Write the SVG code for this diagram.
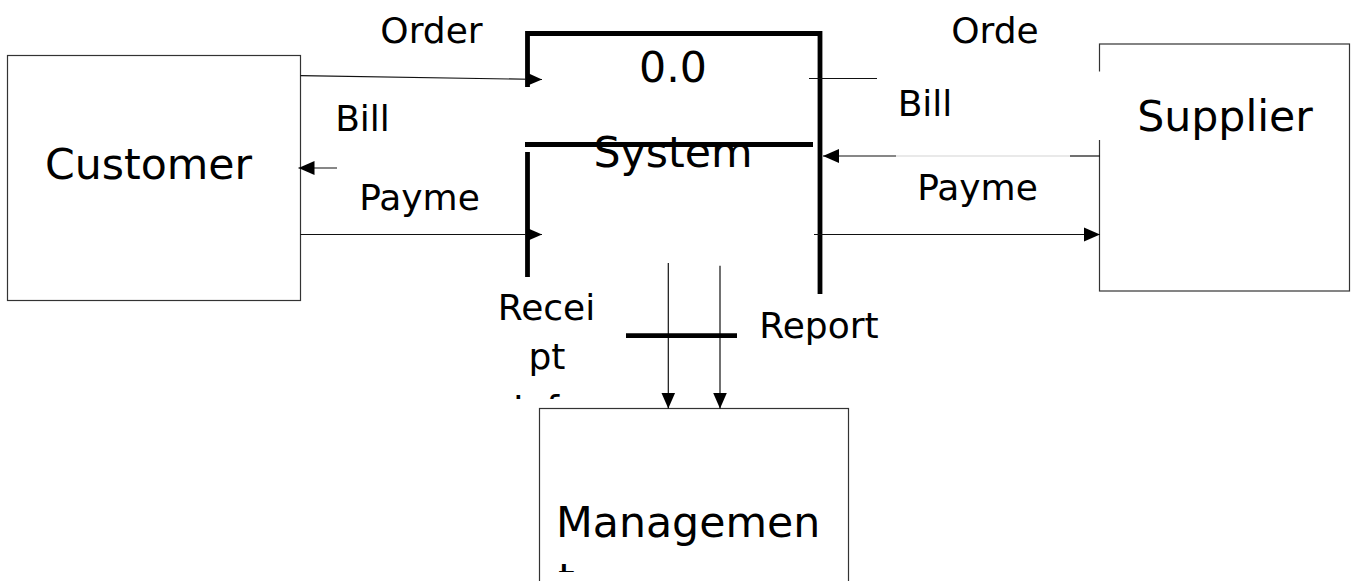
<svg xmlns="http://www.w3.org/2000/svg" width="1358" height="581" viewBox="0 0 1358 581">
<style>
.box{fill:#fff;stroke:#333;stroke-width:1.2}
.thick{fill:none;stroke:#000;stroke-width:4.8}
.flow{fill:none;stroke:#111;stroke-width:1.2}
.lbl{font-family:"DejaVu Sans",sans-serif;font-size:36px;fill:#000;text-anchor:middle}
.big{font-family:"DejaVu Sans",sans-serif;font-size:42.67px;fill:#000;text-anchor:middle}
</style>
<defs>
<marker id="arr" markerUnits="userSpaceOnUse" markerWidth="17" markerHeight="15" refX="16" refY="7.5" orient="auto">
<path d="M0,0.5 L16,7.5 L0,14.5 Z" fill="#000"/>
</marker>
<clipPath id="clipReceipt"><rect x="480" y="280" width="140" height="119"/></clipPath>
<clipPath id="clipMgmt"><rect x="540" y="409" width="308" height="163"/></clipPath>
</defs>
<rect width="1358" height="581" fill="#fff"/>

<g id="customer">
<rect class="box" x="7.5" y="55.5" width="293" height="245"/>
<text class="big" x="148.5" y="178.5">Customer</text>
</g>

<g id="supplier">
<rect class="box" x="1099.5" y="44" width="250" height="247"/>
<text class="big" x="1225" y="130.5">Supplier</text>
</g>

<g id="management">
<rect class="box" x="539.5" y="408.5" width="309" height="190"/>
<g clip-path="url(#clipMgmt)">
<text class="big" style="text-anchor:start" x="556" y="537">Managemen</text>
<text class="big" style="text-anchor:start" x="558" y="594">t</text>
</g>
</g>

<g id="system">
<path class="thick" d="M527.5,87 V33.5 H820 V294"/>
<path class="thick" d="M525,144.5 H813"/>
<path class="thick" d="M527.5,152 V277"/>
<text class="big" x="673" y="82">0.0</text>
<text class="big" x="673" y="167">System</text>
</g>

<g id="connectors">
<line class="flow" x1="300.5" y1="75.7" x2="542" y2="79.5" marker-end="url(#arr)"/>
<line class="flow" x1="337" y1="168" x2="298.5" y2="168" marker-end="url(#arr)"/>
<line class="flow" x1="300.5" y1="234.5" x2="542" y2="234.5" marker-end="url(#arr)"/>
<line class="flow" x1="809" y1="78.5" x2="1080" y2="78.5"/>
<line class="flow" x1="1100" y1="156" x2="1070" y2="156"/>
<line x1="1070" y1="156" x2="896" y2="156" stroke="#d4d4d4" stroke-width="1.2"/>
<line class="flow" x1="896" y1="156" x2="823" y2="156" marker-end="url(#arr)"/>
<line class="flow" x1="814" y1="234.5" x2="1100" y2="234.5" marker-end="url(#arr)"/>
<line class="flow" x1="668.3" y1="263" x2="668.3" y2="408.5" marker-end="url(#arr)"/>
<line class="flow" x1="720" y1="265.7" x2="720" y2="408.5" marker-end="url(#arr)"/>
<path class="thick" d="M626,335.7 H737"/>
</g>

<g id="labels">
<rect x="877" y="71.5" width="225" height="68.5" fill="#fff"/>
<text class="lbl" x="431.5" y="43">Order</text>
<text class="lbl" x="362.5" y="131">Bill</text>
<text class="lbl" x="419.5" y="210">Payme</text>
<text class="lbl" x="995" y="43">Orde</text>
<text class="lbl" x="925" y="116">Bill</text>
<text class="lbl" x="977.5" y="200">Payme</text>
<text class="lbl" x="819" y="338">Report</text>
<g clip-path="url(#clipReceipt)">
<text class="lbl" x="546.5" y="320">Recei</text>
<text class="lbl" x="547" y="369">pt</text>
<text class="lbl" x="547" y="421">Info</text>
</g>
</g>
</svg>
